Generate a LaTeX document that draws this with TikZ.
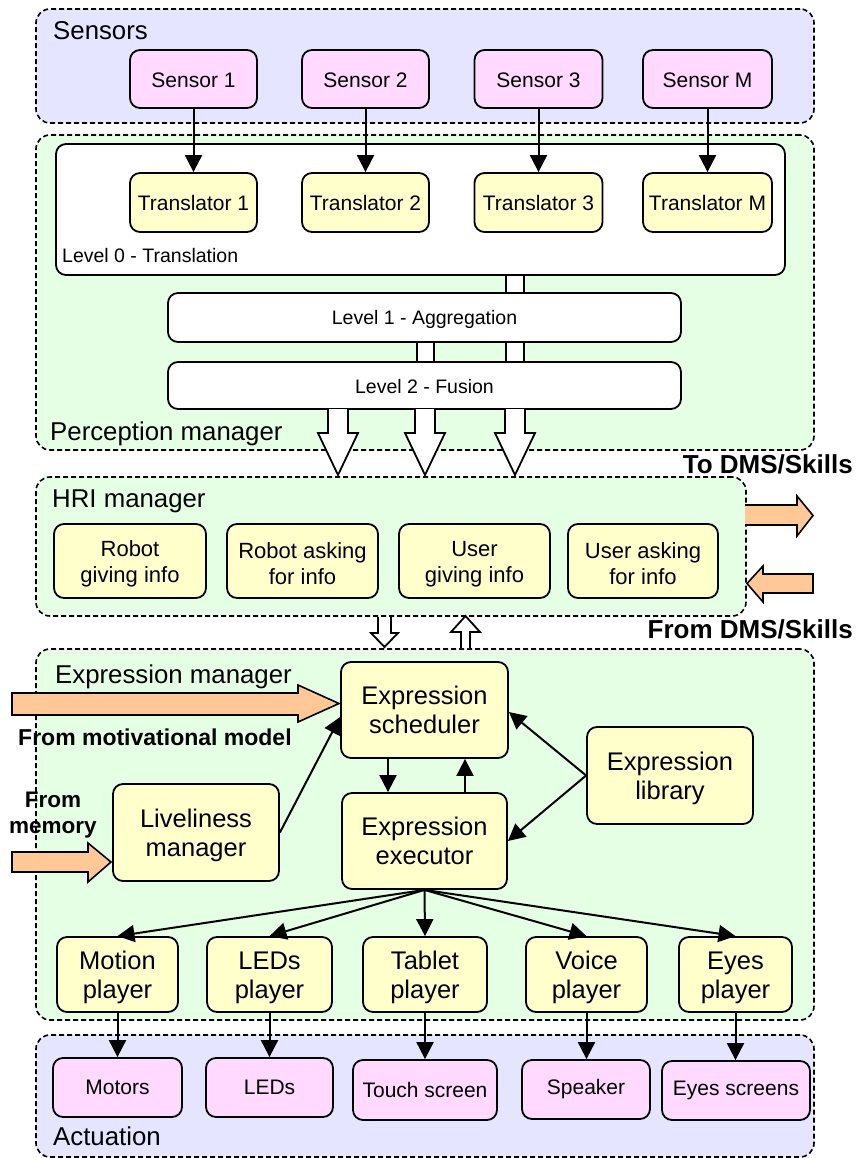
\documentclass[tikz,border=0pt]{standalone}
\usepackage{fontspec}
\setmainfont{Liberation Sans}
\usetikzlibrary{arrows.meta,calc}
\definecolor{senseblue}{HTML}{E5E5FF}
\definecolor{mgrgreen}{HTML}{E5FFE5}
\definecolor{devpink}{HTML}{FFD9FF}
\definecolor{modyellow}{HTML}{FFFFCC}
\definecolor{flow}{HTML}{FFC896}
% invisible strut that lowers the text block inside a box
\newcommand{\lowerby}[1]{\rule{0pt}{#1}}

\begin{document}
\begin{tikzpicture}[x=1pt,y=-1pt,
  group/.style={draw, dash pattern=on 5pt off 3pt, line width=1.6pt, rounded corners=14pt, inner sep=0},
  grouplabel/.style={anchor=base west, inner sep=0, font=\fontsize{25.8}{30}\selectfont},
  box/.style={draw, line width=1.8pt, rounded corners=10pt, inner sep=0, align=center},
  dev/.style={box, fill=devpink, font=\fontsize{21}{25}\selectfont},
  trans/.style={box, fill=modyellow, font=\fontsize{21}{25}\selectfont},
  level/.style={box, fill=white, font=\fontsize{19.5}{23}\selectfont},
  hri/.style={box, fill=modyellow, font=\fontsize{22}{26}\selectfont},
  expr/.style={box, fill=modyellow, font=\fontsize{25.5}{29}\selectfont},
  boldlabel/.style={inner sep=0, font=\fontsize{26}{30}\selectfont\bfseries},
  sidelabel/.style={inner sep=0, align=center, font=\fontsize{22.5}{26}\selectfont\bfseries},
  arr/.style={line width=2pt, -{Triangle[length=17pt,width=17pt]}},
  hollow/.style={draw, fill=white, line width=1.8pt, line join=miter},
  flowarrow/.style={draw, fill=flow, line width=1.6pt, line join=miter},
  bar/.style={draw, fill=white, line width=1.6pt}
]
\useasboundingbox (0,0) rectangle (857,1158);
\fill[white] (0,0) rectangle (857,1158);

% ---------- groups ----------
\node[group, fill=senseblue, minimum width=778pt, minimum height=114pt] (sensors) at (425,66) {};
\node[group, fill=mgrgreen, minimum width=778pt, minimum height=315pt] (perception) at (425,292.5) {};
\node[group, fill=mgrgreen, minimum width=710pt, minimum height=139pt] (hrimgr) at (391,546.5) {};
\node[group, fill=mgrgreen, minimum width=778pt, minimum height=371pt] (exprmgr) at (425,834.5) {};
\node[group, fill=senseblue, minimum width=778pt, minimum height=122pt] (actuation) at (425,1096) {};

\node[grouplabel] (lsens) at (53,40) {Sensors};
\node[grouplabel] (lperc) at (50,440) {Perception manager};
\node[grouplabel] (lhri) at (52,507) {HRI manager};
\node[grouplabel] (lexpr) at (55,683) {Expression manager};
\node[grouplabel] (lact) at (53,1145) {Actuation};

% ---------- perception levels ----------
\node[level, minimum width=729pt, minimum height=131pt] (l0) at (420.5,209.5) {};
\node[anchor=base west, inner sep=0, font=\fontsize{19.5}{23}\selectfont] (l0text) at (62,262) {Level 0 - Translation};

\draw[bar] (506,275) rectangle (524,293);
\draw[bar] (417,342) rectangle (434,362);
\draw[bar] (506,342) rectangle (524,362);

\node[level, minimum width=513pt, minimum height=49pt] (l1) at (424.5,317.5) {\lowerby{19pt}Level 1 - Aggregation};
\node[level, minimum width=513pt, minimum height=47pt] (l2) at (424.5,385.5) {\lowerby{16pt}Level 2 - Fusion};

% ---------- sensors and translators ----------
\node[dev, minimum width=127pt, minimum height=58pt] (s1) at (193.5,79) {\lowerby{17pt}Sensor 1};
\node[dev, minimum width=127pt, minimum height=58pt] (s2) at (365.5,79) {\lowerby{17pt}Sensor 2};
\node[dev, minimum width=128pt, minimum height=58pt] (s3) at (538.5,79) {\lowerby{17pt}Sensor 3};
\node[dev, minimum width=129pt, minimum height=58pt] (sM) at (707.5,79) {\lowerby{17pt}Sensor M};

\node[trans, minimum width=127pt, minimum height=59pt] (t1) at (193.5,202.5) {\lowerby{17pt}Translator 1};
\node[trans, minimum width=127pt, minimum height=59pt] (t2) at (365.5,202.5) {\lowerby{17pt}Translator 2};
\node[trans, minimum width=128pt, minimum height=59pt] (t3) at (538.5,202.5) {\lowerby{17pt}Translator 3};
\node[trans, minimum width=129pt, minimum height=59pt] (tM) at (707.5,202.5) {\lowerby{17pt}Translator M};

\foreach \a/\b in {s1/t1, s2/t2, s3/t3, sM/tM}
  \draw[arr] (\a.south) -- (\b.north);

% ---------- fusion output towards the HRI manager ----------
\foreach \cx in {338,425,515}
  \draw[hollow, shift={(\cx,409)}]
    (-10,0) -- (-10,24) -- (-20,24) -- (0,66) -- (20,24) -- (10,24) -- (10,0);

% ---------- HRI manager ----------
\node[hri, minimum width=152pt, minimum height=74pt] (rgive) at (130,561) {\lowerby{22pt}Robot\\giving info};
\node[hri, minimum width=151pt, minimum height=74pt] (rask) at (302.5,561) {\lowerby{22pt}Robot asking\\for info};
\node[hri, minimum width=151pt, minimum height=74pt] (ugive) at (474.5,561) {\lowerby{22pt}User\\giving info};
\node[hri, minimum width=150pt, minimum height=74pt] (uask) at (643,561) {\lowerby{22pt}User asking\\for info};

\node[boldlabel, anchor=base east] (todms) at (853,473) {To DMS/Skills};
\node[boldlabel, anchor=base east] (fromdms) at (853,638) {From DMS/Skills};

\draw[flowarrow] (745,505) -- (797,505) -- (797,496) -- (813,515.5) -- (797,536) -- (797,525) -- (745,525);
\draw[flowarrow] (813,574) -- (763,574) -- (763,566) -- (747,583.5) -- (763,602) -- (763,593) -- (813,593) -- cycle;

% exchange between HRI manager and expression manager
\draw[hollow] (378,617) -- (378,633) -- (371,633) -- (384.5,647) -- (398,633) -- (391,633) -- (391,617);
\draw[hollow] (461,648) -- (461,632) -- (451,632) -- (465.5,616) -- (480,632) -- (470,632) -- (470,648);

% ---------- expression manager ----------
\node[expr, minimum width=167pt, minimum height=96pt] (sched) at (424.5,710) {Expression\\scheduler};
\node[expr, minimum width=165pt, minimum height=96pt] (exec) at (424.5,841) {Expression\\executor};
\node[expr, minimum width=166pt, minimum height=97pt] (lib) at (670,775.5) {\lowerby{24pt}Expression\\library};
\node[expr, minimum width=166pt, minimum height=97pt] (live) at (196,832.5) {\lowerby{25pt}Liveliness\\manager};

\coordinate (xdown) at (388,0);
\coordinate (xup) at (465,0);
\draw[arr] (sched.south -| xdown) -- (exec.north -| xdown);
\draw[arr] (exec.north -| xup) -- (sched.south -| xup);
\draw[arr] (lib.west) -- ([yshift=-2pt]sched.east);
\draw[arr] (lib.west) -- (exec.east);
\draw[arr] (live.east) -- ([yshift=-7pt]sched.west);

\draw[flowarrow] (12,693) -- (298,693) -- (298,685) -- (339,703.5) -- (298,722) -- (298,715) -- (12,715) -- cycle;
\node[boldlabel, font=\fontsize{23}{27}\selectfont\bfseries, anchor=base west] (motiv) at (18,745) {From motivational model};

\draw[flowarrow] (12,852) -- (88,852) -- (88,843) -- (111,862) -- (88,882) -- (88,872) -- (12,872) -- cycle;
\node[sidelabel, anchor=base] (memory) at (53,833) {From\\memory};

% ---------- players ----------
\node[expr, minimum width=121pt, minimum height=75pt] (pmotion) at (117.5,974.5) {\lowerby{25pt}Motion\\player};
\node[expr, minimum width=125pt, minimum height=75pt] (pleds) at (269.5,974.5) {\lowerby{25pt}LEDs\\player};
\node[expr, minimum width=124pt, minimum height=75pt] (ptablet) at (425,974.5) {\lowerby{25pt}Tablet\\player};
\node[expr, minimum width=121pt, minimum height=75pt] (pvoice) at (586.5,974.5) {\lowerby{25pt}Voice\\player};
\node[expr, minimum width=113pt, minimum height=75pt] (peyes) at (735.5,974.5) {\lowerby{25pt}Eyes\\player};

\foreach \p in {pmotion, pleds, ptablet, pvoice, peyes}
  \draw[arr] (exec.south) -- (\p.north);

% ---------- actuators ----------
\node[dev, minimum width=129pt, minimum height=59pt] (amotors) at (117.5,1087.5) {Motors};
\node[dev, minimum width=127pt, minimum height=59pt] (aleds) at (269.5,1087.5) {LEDs};
\node[dev, minimum width=144pt, minimum height=60pt] (atouch) at (425,1090) {Touch screen};
\node[dev, minimum width=128pt, minimum height=59pt] (aspeak) at (586,1089.5) {Speaker};
\node[dev, minimum width=148pt, minimum height=59pt] (aeyes) at (736,1090.5) {Eyes screens};

\draw[arr] (pmotion.south) -- (pmotion.south |- amotors.north);
\draw[arr] (pleds.south) -- (pleds.south |- aleds.north);
\draw[arr] (ptablet.south) -- (ptablet.south |- atouch.north);
\draw[arr] (pvoice.south) -- (pvoice.south |- aspeak.north);
\draw[arr] (peyes.south) -- (peyes.south |- aeyes.north);
\end{tikzpicture}
\end{document}
